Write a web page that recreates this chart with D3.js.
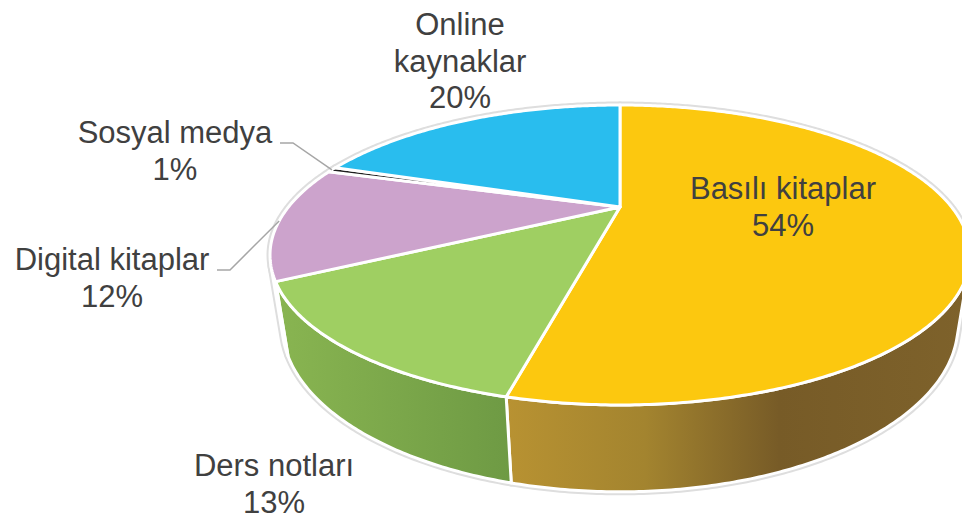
<!DOCTYPE html>
<html>
<head>
<meta charset="utf-8">
<script src="https://cdn.jsdelivr.net/npm/d3@7"></script>
<style>
  body { margin: 0; background: #fff; }
  svg { display: block; }
</style>
</head>
<body>
<svg id="chart" width="962" height="523"></svg>
<script>
// Data:
var categories = ['Basılı kitaplar', 'Ders notları', 'Digital kitaplar', 'Sosyal medya', 'Online kaynaklar'];
var shares = [53.8, 13.4, 12.4, 0.6, 19.8];

// Colours (top faces and side shading stops):
var topColors = ['#FCC80F', '#9FCF62', '#CCA3CC', '#1E1E1E', '#29BDEE'];
var sideStops = [
    [[0, '#B89232'], [0.3, '#A3842F'], [0.59, '#775B27'], [1, '#7E622B']],
    [[0, '#89B551'], [1, '#6E9A44']],
    [[0, '#A888A8'], [1, '#977797']],
    [[0, '#111111'], [1, '#111111']],
    [[0, '#1E96BE'], [1, '#1A85A8']]
];

// Label layout: centre x, first baseline, leader (label end, elbow)
var labelLayout = [
    {x: 783, y: 199},
    {x: 274, y: 476},
    {x: 112, y: 270, leader: [[217, 270], [230, 270]]},
    {x: 175, y: 143, leader: [[280, 143], [293, 143]]},
    {x: 460, y: 35, wrap: true}
];

// Perspective camera for the 3D pie:
var cx = 620, cy = 207;
var focal = 947, dist = 2.856, tilt = Math.asin(0.406), thick = 0.225;

function project(a, z, r) {
    if (r === undefined) r = 1;
    var u = r * Math.sin(a), v = -r * Math.cos(a);
    var depth = dist - v * Math.cos(tilt) + z * thick * Math.sin(tilt);
    return [cx + focal * u / depth,
            cy + focal * (v * Math.sin(tilt) + z * thick * Math.cos(tilt)) / depth];
}

function arcPoints(a0, a1, z) {
    var n = Math.max(2, Math.ceil((a1 - a0) / 0.01));
    return d3.range(n + 1).map((i) => project(a0 + (a1 - a0) * i / n, z));
}

// Side of the cylinder is visible only on the front part:
var vMin = 1 / (dist * Math.cos(tilt));
var aLo = Math.acos(-vMin), aHi = 2 * Math.PI - aLo;

var pie = d3.pie().sort(null).value((d) => d);
var slices = pie(shares);

var svg = d3.select('#chart');
var defs = svg.append('defs');
var line = d3.line();

var sides = slices.map((s) => ({s: s, a0: Math.max(s.startAngle, aLo), a1: Math.min(s.endAngle, aHi)}))
                  .filter((d) => d.a1 > d.a0)
                  .map(function(d) {
                      d.pts = arcPoints(d.a0, d.a1, 0).concat(arcPoints(d.a0, d.a1, 1).reverse());
                      d.ext = d3.extent(d.pts, (p) => p[0]);
                      return d;
                  });

var tops = slices.map((s) => ({s: s, pts: [project(0, 0, 0)].concat(arcPoints(s.startAngle, s.endAngle, 0))}));

// Gradients for the sides:
sides.forEach(function(d) {
    var g = defs.append('linearGradient').attr('id', 'side' + d.s.index)
                .attr('gradientUnits', 'userSpaceOnUse')
                .attr('x1', d.ext[0]).attr('x2', d.ext[1]).attr('y1', 0).attr('y2', 0);
    sideStops[d.s.index].forEach((st) => g.append('stop').attr('offset', st[0]).attr('stop-color', st[1]));
});

// Light grey halo round the pie:
var halo = svg.append('g').attr('fill', 'none').attr('stroke', '#dedede')
              .attr('stroke-width', 7).attr('stroke-linejoin', 'round');
halo.selectAll('path.s').data(sides).enter().append('path').attr('d', (d) => line(d.pts) + 'Z');
halo.selectAll('path.t').data(tops).enter().append('path').attr('d', (d) => line(d.pts) + 'Z');

// The sides:
svg.append('g').selectAll('path').data(sides).enter().append('path')
   .attr('d', (d) => line(d.pts) + 'Z')
   .attr('fill', (d) => 'url(#side' + d.s.index + ')')
   .attr('stroke', '#fff').attr('stroke-width', 3).attr('stroke-linejoin', 'round');

// The top faces:
svg.append('g').selectAll('path').data(tops).enter().append('path')
   .attr('d', (d) => line(d.pts) + 'Z')
   .attr('fill', (d) => topColors[d.s.index])
   .attr('stroke', '#fff').attr('stroke-width', 3).attr('stroke-linejoin', 'round');

// Leader lines:
svg.append('g').attr('fill', 'none').attr('stroke', '#A6A6A6').attr('stroke-width', 1.5)
   .selectAll('path').data(slices.filter((s) => labelLayout[s.index].leader)).enter().append('path')
   .attr('d', function(s) {
       var mid = (s.startAngle + s.endAngle) / 2;
       return line(labelLayout[s.index].leader.concat([project(mid, 0, 1)]));
   });

// Labels:
var labels = svg.append('g').attr('font-family', "'Liberation Sans', Arial, sans-serif")
                .attr('font-size', 31).attr('fill', '#404040').attr('text-anchor', 'middle');
slices.forEach(function(s) {
    var lay = labelLayout[s.index];
    var lines = lay.wrap ? categories[s.index].split(' ') : [categories[s.index]];
    lines.push(Math.round(s.data) + '%');
    var t = labels.append('text').attr('x', lay.x).attr('y', lay.y);
    lines.forEach((l, i) => t.append('tspan').attr('x', lay.x).attr('dy', i ? 36.5 : 0).text(l));
});
</script>
</body>
</html>
